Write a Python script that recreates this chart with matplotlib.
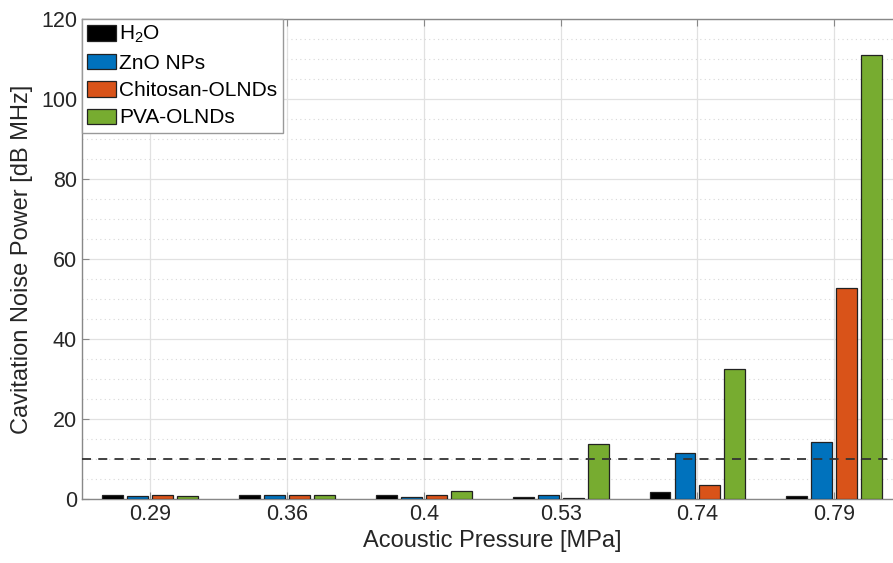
import matplotlib.pyplot as plt
import numpy as np

plt.rcParams['font.family'] = ['Liberation Sans', 'DejaVu Sans']
plt.rcParams['mathtext.fontset'] = 'custom'
plt.rcParams['mathtext.rm'] = 'Liberation Sans'
plt.rcParams['mathtext.it'] = 'Liberation Sans:italic'
plt.rcParams['mathtext.bf'] = 'Liberation Sans:bold'

pressures = ['0.29', '0.36', '0.4', '0.53', '0.74', '0.79']
h2o = [0.9, 0.9, 0.9, 0.5, 1.7, 0.75]
zno = [0.7, 0.9, 0.55, 0.9, 11.5, 14.25]
chitosan = [1.0, 0.9, 0.9, 0.25, 3.6, 52.75]
pva = [0.75, 0.9, 2.1, 13.75, 32.5, 111.0]
labels = ['H$_\\mathrm{2}$O', 'ZnO NPs', 'Chitosan-OLNDs', 'PVA-OLNDs']
colors = ['#000000', '#0072BD', '#D95319', '#77AC30']
threshold = 10

fig = plt.figure(figsize=(8.93, 5.63), dpi=100)
ax = fig.add_axes([0.0918, 0.1137, 0.919, 0.8526])

x = np.arange(1, len(pressures) + 1)
step = 0.1825
width = 0.153
series = [h2o, zno, chitosan, pva]
for i, (vals, c, lab) in enumerate(zip(series, colors, labels)):
    ax.bar(x + (i - 1.5) * step, vals, width, color=c, edgecolor='#222222',
           linewidth=0.9, label=lab, zorder=3)

ax.axhline(threshold, color='#333333', linestyle=(0, (5, 4)), linewidth=1.3, zorder=4)

ax.set_xlim(0.5, 6.5)
ax.set_ylim(0, 120)
ax.set_xticks(x)
ax.set_xticklabels(pressures)
ax.set_yticks(np.arange(0, 121, 20))
ax.set_yticks(np.arange(0, 121, 5), minor=True)
ax.tick_params(axis='both', which='major', labelsize=15.5, direction='in',
               length=5, color='#888888', top=True, labelcolor='#262626')
ax.tick_params(axis='y', which='minor', length=0)
ax.grid(True, which='major', color='#e1e1e1', linewidth=0.9, zorder=0)
ax.grid(True, which='minor', axis='y', color='#d8d8d8', linestyle=(0, (1, 3)),
        linewidth=0.8, zorder=0)
ax.set_axisbelow(True)
for s in ['left', 'bottom', 'top']:
    ax.spines[s].set_color('#888888')
    ax.spines[s].set_linewidth(1.0)
ax.spines['right'].set_visible(False)

ax.set_xlabel('Acoustic Pressure [MPa]', fontsize=17, color='#262626', labelpad=4)
ax.set_ylabel('Cavitation Noise Power [dB MHz]', fontsize=17, color='#262626', labelpad=6)

leg = ax.legend(loc='upper left', fontsize=15, borderaxespad=0, fancybox=False,
                framealpha=1, edgecolor='#999999', handlelength=1.4, handleheight=0.75,
                handletextpad=0.15, labelspacing=0.4, borderpad=0.25)
leg.get_frame().set_linewidth(1.0)

fig.savefig('out.png', dpi=100)
